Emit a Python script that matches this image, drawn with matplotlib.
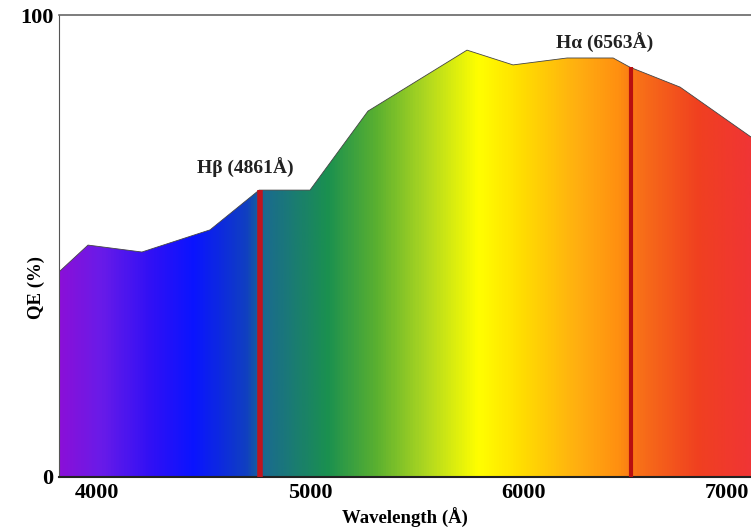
import numpy as np
import matplotlib.pyplot as plt
from matplotlib.colors import LinearSegmentedColormap
from matplotlib.patches import Polygon
from matplotlib.transforms import ScaledTranslation

# QE curve
wavelength = [3822, 3958, 4211, 4531, 4761, 5000, 5272, 5737, 5953, 6207, 6423, 6502, 6737, 7070]
qe = [44.4, 50.2, 48.7, 53.5, 62.1, 62.1, 79.2, 92.4, 89.2, 90.7, 90.7, 88.7, 84.4, 73.6]

# spectrum colours along the wavelength axis
color_wl = [3822, 4010, 4250, 4450, 4700, 4780, 5080, 5310, 5550, 5790, 5980, 6250, 6450, 6550, 6830, 7070]
color_hex = ['#8a10d8', '#6a1be8', '#3010f5', '#0a14ff', '#1040c0', '#1a6a90', '#1a9050', '#5ab030',
             '#b0d820', '#ffff00', '#ffe000', '#ffb010', '#ff9010', '#f87018', '#f04020', '#f03535']

lines_wl = [4765, 6505]
line_labels = ['H\u03b2 (4861\u00c5)', 'H\u03b1 (6563\u00c5)']
label_pos = [(4695, 66.9), (6385, 93.9)]

xmin, xmax = 3822, 7070

plt.rcParams['font.family'] = ['Liberation Serif', 'DejaVu Serif']
fig = plt.figure(figsize=(7.51, 5.29), dpi=100)
ax = fig.add_axes([0.0786, 0.0983, 0.9214, 0.8733])

pos = [(w - xmin) / (xmax - xmin) for w in color_wl]
cmap = LinearSegmentedColormap.from_list('spec', list(zip(pos, color_hex)))
grad = np.linspace(0, 1, 800).reshape(1, -1)
im = ax.imshow(grad, cmap=cmap, extent=[xmin, xmax, 0, 100], aspect='auto', origin='lower', zorder=1)

verts = [(xmin, 0)] + list(zip(wavelength, qe)) + [(xmax, 0)]
poly = Polygon(verts, closed=True, facecolor='none', edgecolor='none')
ax.add_patch(poly)
im.set_clip_path(poly)
ax.plot(wavelength, qe, color='#444444', lw=0.6, zorder=2)

ax.vlines(lines_wl[0], 0, np.interp(lines_wl[0], wavelength, qe), color='#c0141e', lw=4, zorder=3)
ax.vlines(lines_wl[1], 0, np.interp(lines_wl[1], wavelength, qe), color='#b81010', lw=3, zorder=3)
for txt, (tx, ty) in zip(line_labels, label_pos):
    ax.text(tx, ty, txt, ha='center', va='center', fontsize=14, fontweight='bold', color='#222222')

ax.set_xlim(xmin, xmax)
ax.set_ylim(0, 100)
ax.set_xticks([4000, 5000, 6000, 7000])
ax.set_yticks([0, 100])
ax.tick_params(length=0, labelsize=16, pad=4)
for lab in ax.get_xticklabels() + ax.get_yticklabels():
    lab.set_fontweight('bold')
# last x label sits flush with the right edge of the picture
last = ax.xaxis.get_major_ticks()[-1].label1
last.set_ha('right')
last.set_transform(last.get_transform() + ScaledTranslation(13 / 100, 0, fig.dpi_scale_trans))

ax.set_xlabel('Wavelength (\u00c5)', fontsize=13.5, fontweight='bold', labelpad=4)
ax.set_ylabel('QE (%)', fontsize=13.5, fontweight='bold')
ax.yaxis.set_label_coords(-0.02, 0.41)

ax.spines['right'].set_visible(False)
ax.spines['top'].set_color('#666666')
ax.spines['left'].set_color('#555555')
ax.spines['bottom'].set_color('#222222')
ax.spines['bottom'].set_linewidth(1.5)
ax.spines['top'].set_linewidth(1.2)

fig.savefig('out.png', dpi=100)
